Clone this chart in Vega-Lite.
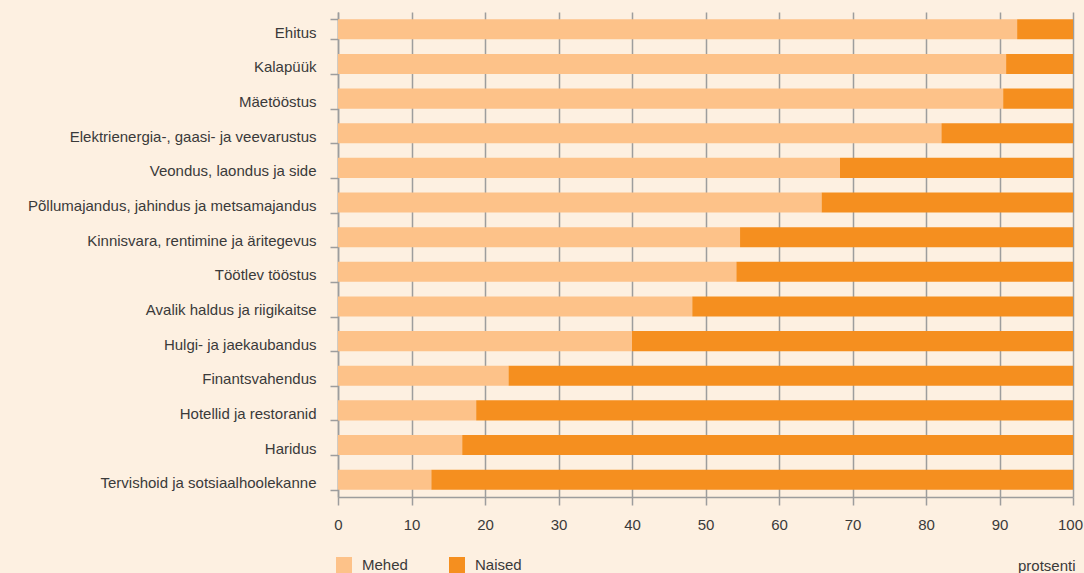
{
  "$schema": "https://vega.github.io/schema/vega-lite/v6.json",
  "width": 735,
  "height": 485,
  "autosize": {"type": "none"},
  "padding": {"left": 338, "top": 12, "right": 11, "bottom": 76},
  "background": "#fdf0e1",
  "config": {
    "view": {"stroke": null},
    "font": "Liberation Sans",
    "axis": {"labelFont": "Liberation Sans", "labelColor": "#3a3a3a", "labelFontSize": 15, "domainColor": "#9d9d9d", "tickColor": "#9d9d9d", "gridColor": "#9d9d9d", "gridOpacity": 1, "tickSize": 8, "domainWidth": 1.5, "tickWidth": 1.5, "gridWidth": 1.5}
  },
  "data": {
    "values": [
      {"ala": "Ehitus", "sugu": "Mehed", "protsent": 92.4},
      {"ala": "Ehitus", "sugu": "Naised", "protsent": 7.6},
      {"ala": "Kalapüük", "sugu": "Mehed", "protsent": 90.9},
      {"ala": "Kalapüük", "sugu": "Naised", "protsent": 9.1},
      {"ala": "Mäetööstus", "sugu": "Mehed", "protsent": 90.5},
      {"ala": "Mäetööstus", "sugu": "Naised", "protsent": 9.5},
      {"ala": "Elektrienergia-, gaasi- ja veevarustus", "sugu": "Mehed", "protsent": 82.1},
      {"ala": "Elektrienergia-, gaasi- ja veevarustus", "sugu": "Naised", "protsent": 17.9},
      {"ala": "Veondus, laondus ja side", "sugu": "Mehed", "protsent": 68.3},
      {"ala": "Veondus, laondus ja side", "sugu": "Naised", "protsent": 31.7},
      {"ala": "Põllumajandus, jahindus ja metsamajandus", "sugu": "Mehed", "protsent": 65.8},
      {"ala": "Põllumajandus, jahindus ja metsamajandus", "sugu": "Naised", "protsent": 34.2},
      {"ala": "Kinnisvara, rentimine ja äritegevus", "sugu": "Mehed", "protsent": 54.7},
      {"ala": "Kinnisvara, rentimine ja äritegevus", "sugu": "Naised", "protsent": 45.3},
      {"ala": "Töötlev tööstus", "sugu": "Mehed", "protsent": 54.2},
      {"ala": "Töötlev tööstus", "sugu": "Naised", "protsent": 45.8},
      {"ala": "Avalik haldus ja riigikaitse", "sugu": "Mehed", "protsent": 48.2},
      {"ala": "Avalik haldus ja riigikaitse", "sugu": "Naised", "protsent": 51.8},
      {"ala": "Hulgi- ja jaekaubandus", "sugu": "Mehed", "protsent": 40.0},
      {"ala": "Hulgi- ja jaekaubandus", "sugu": "Naised", "protsent": 60.0},
      {"ala": "Finantsvahendus", "sugu": "Mehed", "protsent": 23.2},
      {"ala": "Finantsvahendus", "sugu": "Naised", "protsent": 76.8},
      {"ala": "Hotellid ja restoranid", "sugu": "Mehed", "protsent": 18.8},
      {"ala": "Hotellid ja restoranid", "sugu": "Naised", "protsent": 81.2},
      {"ala": "Haridus", "sugu": "Mehed", "protsent": 16.9},
      {"ala": "Haridus", "sugu": "Naised", "protsent": 83.1},
      {"ala": "Tervishoid ja sotsiaalhoolekanne", "sugu": "Mehed", "protsent": 12.7},
      {"ala": "Tervishoid ja sotsiaalhoolekanne", "sugu": "Naised", "protsent": 87.3}
    ]
  },
  "mark": {"type": "bar"},
  "encoding": {
    "y": {
      "field": "ala",
      "type": "nominal",
      "sort": null,
      "scale": {"paddingInner": 0.42, "paddingOuter": 0.21},
      "axis": {"title": null, "tickBand": "extent", "grid": false, "labelPadding": 14, "labelLimit": 330, "labelOffset": 3}
    },
    "x": {
      "field": "protsent",
      "type": "quantitative",
      "stack": "zero",
      "scale": {"domain": [0, 100], "nice": false},
      "axis": {"values": [0,10,20,30,40,50,60,70,80,90,100], "title": "protsenti", "titleAnchor": "end", "titleAlign": "right", "titleBaseline": "alphabetic", "titleY": 73, "titleX": 737, "titleFontWeight": "normal", "titleFontSize": 15, "titleColor": "#3a3a3a", "titleFont": "Liberation Sans", "labelPadding": 12, "labelFlush": false, "labelOffset": {"condition": {"test": "datum.value == 100", "value": -3}, "value": 0}}
    },
    "color": {
      "field": "sugu",
      "type": "nominal",
      "scale": {"domain": ["Mehed", "Naised"], "range": ["#fdc289", "#f58f1f"]},
      "legend": {"title": null, "orient": "none", "legendX": -2, "legendY": 545, "direction": "horizontal", "symbolType": "square", "symbolSize": 256, "symbolStrokeWidth": 0, "symbolOpacity": 1, "labelFontSize": 15, "labelColor": "#3a3a3a", "labelFont": "Liberation Sans", "labelOffset": 10, "columnPadding": 41, "padding": 0}
    }
  }
}
